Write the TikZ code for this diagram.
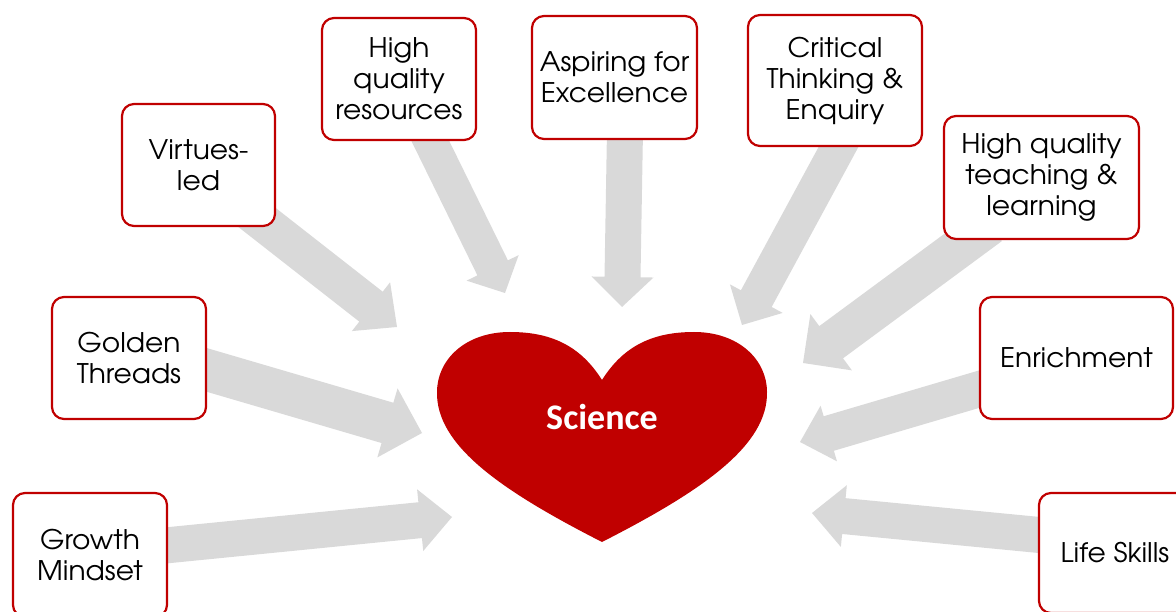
\documentclass[tikz,border=0pt]{standalone}
\usepackage{fontspec}
\setmainfont{TeX Gyre Adventor}[FakeStretch=1.04]
\newfontfamily\carlito{Carlito}
\usetikzlibrary{calc}
\definecolor{arrowgray}{HTML}{D9D9D9}
\definecolor{boxred}{HTML}{C00000}
\definecolor{heartred}{HTML}{C00000}
\newcommand\blockarrow[5]{%
  \path (#2) coordinate (tmpT) ($(#2)!#5!(#1)$) coordinate (tmpB);
  \fill[arrowgray] ($(#1)!#3!90:(tmpT)$) -- ($(tmpB)!#3!90:(tmpT)$) -- ($(tmpB)!#4!90:(tmpT)$) -- (tmpT)
    -- ($(tmpB)!#4!-90:(tmpT)$) -- ($(tmpB)!#3!-90:(tmpT)$) -- ($(#1)!#3!-90:(tmpT)$) -- cycle;}
\begin{document}
\begin{tikzpicture}[x=1pt,y=-1pt,
  box/.style={draw=boxred, line width=2.2pt, rounded corners=12pt, fill=white, align=center,
    font=\fontsize{27}{31}\selectfont, inner sep=0pt}]
\useasboundingbox (0,0) rectangle (1176,612);
% arrow ends
\coordinate (sGrowth) at (150,547);   \coordinate (tGrowth) at (452,517);
\coordinate (sGolden) at (190,365);   \coordinate (tGolden) at (422,433);
\coordinate (sVirtues) at (250,212);  \coordinate (tVirtues) at (397,327);
\coordinate (sRes) at (420,120);      \coordinate (tRes) at (505,293);
\coordinate (sAsp) at (625,130);      \coordinate (tAsp) at (622,307);
\coordinate (sCrit) at (845,135);     \coordinate (tCrit) at (742,325);
\coordinate (sTeach) at (990,225);    \coordinate (tTeach) at (803,363);
\coordinate (sEnr) at (1000,383);     \coordinate (tEnr) at (800,442);
\coordinate (sLife) at (1060,537);    \coordinate (tLife) at (812,513);
% arrows
\blockarrow{sGrowth}{tGrowth}{18pt}{31pt}{32pt}
\blockarrow{sGolden}{tGolden}{21pt}{36pt}{36pt}
\blockarrow{sVirtues}{tVirtues}{19pt}{31pt}{33pt}
\blockarrow{sRes}{tRes}{17pt}{29pt}{28pt}
\blockarrow{sAsp}{tAsp}{18pt}{31pt}{30pt}
\blockarrow{sCrit}{tCrit}{17.5pt}{30pt}{30pt}
\blockarrow{sTeach}{tTeach}{20pt}{35pt}{35pt}
\blockarrow{sEnr}{tEnr}{18pt}{29pt}{30pt}
\blockarrow{sLife}{tLife}{18pt}{31pt}{32pt}
% heart
\fill[heartred] (602,380) .. controls (580,345) and (550,332) .. (510,332)
  .. controls (465,332) and (437,360) .. (437,392)
  .. controls (436,445) and (500,490) .. (602,542)
  .. controls (704,490) and (768,445) .. (767,392)
  .. controls (767,360) and (739,332) .. (694,332)
  .. controls (654,332) and (624,345) .. (602,380) -- cycle;
\node[text=white, font=\carlito\bfseries\fontsize{36}{40}\selectfont] (science) at (602,417) {Science};
% boxes
\node[box, minimum width=154pt, minimum height=124pt] (growth) at (90,555) {Growth\\Mindset};
\node[box, minimum width=154pt, minimum height=122pt] (golden) at (129,358) {Golden\\Threads};
\node[box, minimum width=153pt, minimum height=122pt] (virtues) at (198.5,165) {Virtues-\\led};
\node[box, minimum width=154pt, minimum height=122pt] (res) at (399,79) {High\\quality\\resources};
\node[box, minimum width=165pt, minimum height=123pt] (asp) at (614.5,77.5) {Aspiring for\\Excellence};
\node[box, minimum width=174pt, minimum height=131pt] (crit) at (835,80.5) {Critical\\Thinking \&\\Enquiry};
\node[box, minimum width=195pt, minimum height=123pt] (teach) at (1041.5,177.5) {High quality\\teaching \&\\learning};
\node[box, minimum width=193pt, minimum height=122pt] (enr) at (1076.5,358) {Enrichment};
\node[box, minimum width=152pt, minimum height=120pt] (life) at (1115,553) {Life Skills};
\end{tikzpicture}
\end{document}
